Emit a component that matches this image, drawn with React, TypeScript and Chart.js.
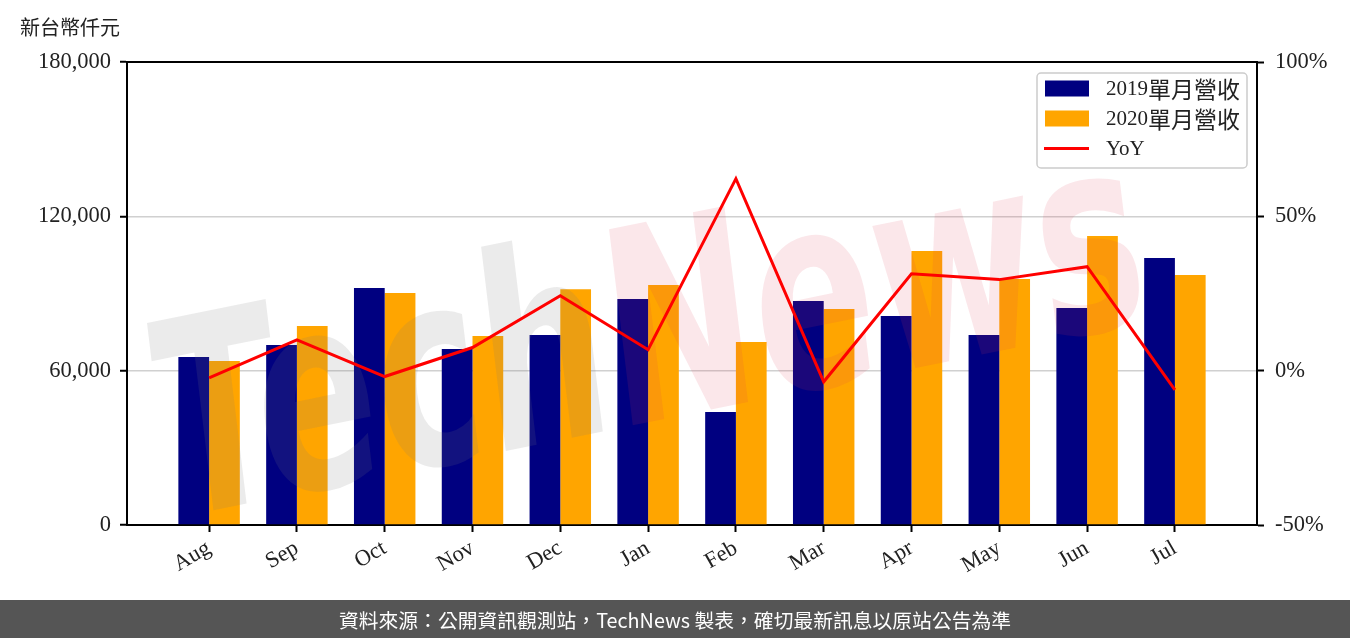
import React, { useEffect, useRef } from "react";
import { Chart, registerables } from "chart.js";

Chart.register(...registerables);

const months = ["Aug", "Sep", "Oct", "Nov", "Dec", "Jan", "Feb", "Mar", "Apr", "May", "Jun", "Jul"];
const revenue2019 = [65300, 70000, 92100, 68400, 73900, 87900, 43900, 87100, 81300, 73900, 84400, 103800];
const revenue2020 = [63800, 77400, 90200, 73500, 91700, 93300, 71100, 84000, 106500, 95600, 112400, 97200];
const yoyPct = [-2.3, 10.0, -1.9, 7.5, 24.3, 6.8, 62.2, -3.6, 31.4, 29.5, 33.7, -6.2];
const leftTicks = [0, 60000, 120000, 180000];
const rightTicks = [-50, 0, 50, 100];

const unitLabel = "新台幣仟元";
const footerText = "資料來源：公開資訊觀測站，TechNews 製表，確切最新訊息以原站公告為準";
const label2019 = "2019單月營收";
const label2020 = "2020單月營收";
const labelYoY = "YoY";

const tickFont = { family: "'Liberation Serif', 'DejaVu Serif', serif", size: 22.5 };
const tickColor = "#222";

const decorPlugin = {
  id: "decor",
  beforeDatasetDraw(chart: any, args: any) {
    if (args.meta.type !== "line") return;
    const ctx = chart.ctx;
    const a = chart.chartArea;
    ctx.save();
    ctx.beginPath();
    ctx.rect(a.left, a.top, a.right - a.left, a.bottom - a.top);
    ctx.clip();
    ctx.translate(650, 330);
    ctx.rotate(-0.2);
    ctx.transform(1, 0, -0.12, 1.5, 0, 0);
    ctx.font = "bold 180px 'DejaVu Sans', sans-serif";
    ctx.textBaseline = "alphabetic";
    const w1 = ctx.measureText("Tech").width;
    const w2 = ctx.measureText("News").width;
    const start = -(w1 + w2) / 2;
    ctx.textAlign = "left";
    ctx.fillStyle = "rgba(120,120,120,0.15)";
    ctx.fillText("Tech", start, 60);
    ctx.fillStyle = "rgba(220,60,80,0.12)";
    ctx.fillText("News", start + w1, 60);
    ctx.restore();
  },
  afterDraw(chart: any) {
    const ctx = chart.ctx;
    const a = chart.chartArea;
    ctx.save();
    // top spine
    ctx.strokeStyle = "#000";
    ctx.lineWidth = 2;
    ctx.beginPath();
    ctx.moveTo(a.left - 1, a.top);
    ctx.lineTo(a.right + 1, a.top);
    ctx.stroke();

    // unit label
    ctx.fillStyle = "#222";
    ctx.font = "20px 'Noto Sans CJK TC', sans-serif";
    ctx.textAlign = "left";
    ctx.textBaseline = "middle";
    ctx.fillText(unitLabel, 20, 27);

    // legend
    const lx = 1037, ly = 73, lw = 210, lh = 95;
    ctx.fillStyle = "rgba(255,255,255,0.8)";
    ctx.strokeStyle = "#cccccc";
    ctx.lineWidth = 1.5;
    ctx.beginPath();
    (ctx as any).roundRect(lx, ly, lw, lh, 4);
    ctx.fill();
    ctx.stroke();
    const ds = chart.data.datasets;
    const rows = [
      { label: ds[1].label, color: ds[1].backgroundColor, kind: "bar" },
      { label: ds[2].label, color: ds[2].backgroundColor, kind: "bar" },
      { label: ds[0].label, color: ds[0].borderColor, kind: "line" },
    ];
    rows.forEach((r, i) => {
      const cy = 88.5 + i * 30;
      if (r.kind === "bar") {
        ctx.fillStyle = r.color;
        ctx.fillRect(1045, cy - 8, 44, 16);
      } else {
        ctx.strokeStyle = r.color;
        ctx.lineWidth = 3;
        ctx.beginPath();
        ctx.moveTo(1044, cy);
        ctx.lineTo(1089, cy);
        ctx.stroke();
      }
      const m = r.label.match(/^([\x00-\x7f]*)(.*)$/);
      const latin = m ? m[1] : r.label;
      const cjk = m ? m[2] : "";
      ctx.fillStyle = "#222";
      ctx.textAlign = "left";
      ctx.textBaseline = "middle";
      ctx.font = "21px 'Liberation Serif', serif";
      ctx.fillText(latin, 1106, cy + 1);
      const wl = ctx.measureText(latin).width;
      if (cjk) {
        ctx.font = "23px 'Noto Sans CJK TC', sans-serif";
        ctx.fillText(cjk, 1106 + wl, cy + 1);
      }
    });

    // footer
    const W = chart.width;
    ctx.fillStyle = "#555555";
    ctx.fillRect(0, 600, W, 38);
    ctx.fillStyle = "#ffffff";
    ctx.font = "19.8px 'Noto Sans CJK TC', 'Noto Sans', sans-serif";
    ctx.textAlign = "center";
    ctx.textBaseline = "middle";
    ctx.fillText(footerText, W / 2, 620);
    ctx.restore();
  },
};

export default function App() {
  const ref = useRef<HTMLCanvasElement | null>(null);

  useEffect(() => {
    if (!ref.current) return;
    const chart = new Chart(ref.current, {
      type: "bar",
      data: {
        datasets: [
          {
            type: "line",
            label: labelYoY,
            data: yoyPct.map((v, i) => ({ x: i, y: v })),
            yAxisID: "yR",
            xAxisID: "x",
            borderColor: "#ff0000",
            backgroundColor: "#ff0000",
            borderWidth: 3,
            pointRadius: 0,
            tension: 0,
            order: 0,
          } as any,
          {
            type: "bar",
            label: label2019,
            data: revenue2019.map((v, i) => ({ x: i, y: v })),
            yAxisID: "y",
            xAxisID: "x",
            backgroundColor: "#000080",
            categoryPercentage: 0.7,
            barPercentage: 1.0,
            order: 1,
          },
          {
            type: "bar",
            label: label2020,
            data: revenue2020.map((v, i) => ({ x: i, y: v })),
            yAxisID: "y",
            xAxisID: "x",
            backgroundColor: "#ffa500",
            categoryPercentage: 0.7,
            barPercentage: 1.0,
            order: 2,
          },
        ],
      },
      options: {
        responsive: false,
        animation: false,
        layout: { padding: { top: 62, bottom: 38, left: 0, right: 0 } },
        plugins: { legend: { display: false }, tooltip: { enabled: false } },
        scales: {
          x: {
            type: "linear",
            min: -0.935,
            max: 11.935,
            offset: false,
            afterBuildTicks: (s: any) => {
              s.ticks = months.map((_, i) => ({ value: i }));
            },
            afterFit: (s: any) => {
              s.height = 75;
            },
            grid: { offset: false, drawOnChartArea: false, tickLength: 7, tickColor: "#000", tickWidth: 2 },
            border: { color: "#000", width: 2 },
            ticks: {
              autoSkip: false,
              minRotation: 30,
              maxRotation: 30,
              padding: 3,
              font: tickFont,
              color: tickColor,
              callback: (v: any) => months[v] ?? "",
            },
          },
          y: {
            position: "left",
            min: 0,
            max: 180000,
            afterBuildTicks: (s: any) => {
              s.ticks = leftTicks.map((v) => ({ value: v }));
            },
            afterFit: (s: any) => {
              s.width = 127;
            },
            grid: {
              color: (c: any) =>
                c.tick && (c.tick.value === 0 || c.tick.value === 180000) ? "rgba(0,0,0,0)" : "#d0d0d0",
              lineWidth: 1.5,
              tickLength: 7,
              tickColor: "#000",
              tickWidth: 2,
            },
            border: { color: "#000", width: 2 },
            ticks: {
              padding: 9,
              font: tickFont,
              color: tickColor,
              callback: (v: any) => Number(v).toLocaleString("en-US"),
            },
          },
          yR: {
            position: "right",
            min: -50,
            max: 100,
            afterBuildTicks: (s: any) => {
              s.ticks = rightTicks.map((v) => ({ value: v }));
            },
            afterFit: (s: any) => {
              s.width = 93;
            },
            grid: { drawOnChartArea: false, tickLength: 7, tickColor: "#000", tickWidth: 2 },
            border: { color: "#000", width: 2 },
            ticks: {
              padding: 11,
              font: tickFont,
              color: tickColor,
              callback: (v: any) => `${v}%`,
            },
          },
        },
      },
      plugins: [decorPlugin],
    } as any);
    return () => chart.destroy();
  }, []);

  return (
    <div style={{ position: "absolute", left: 0, top: 0, width: 1350, height: 638, background: "#fff" }}>
      <canvas ref={ref} width={1350} height={638} style={{ width: 1350, height: 638, display: "block" }} />
    </div>
  );
}
